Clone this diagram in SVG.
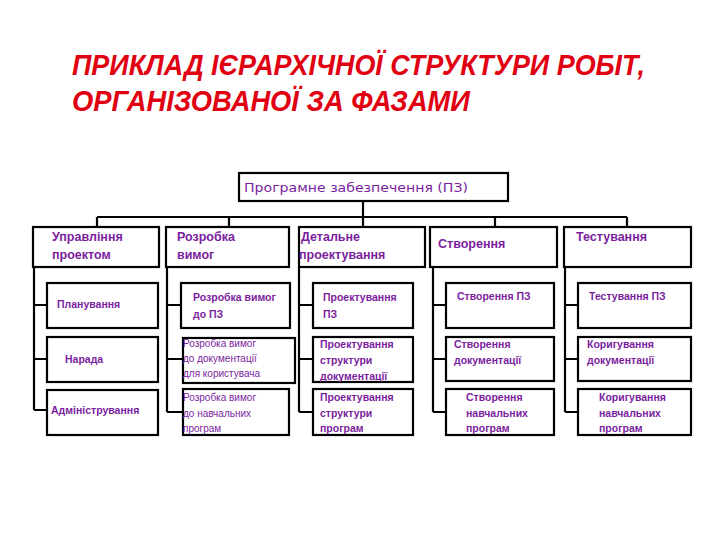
<svg xmlns="http://www.w3.org/2000/svg" width="720" height="540" viewBox="0 0 720 540">
<style>
.bx{fill:#fff;stroke:#000;stroke-width:2.2}
.ln{fill:none;stroke:#000;stroke-width:2.2}
.t1{font-family:"Liberation Sans",Arial,sans-serif;font-weight:bold;font-size:12.5px;fill:#7B1E9E}
.t0{font-family:"DejaVu Sans",Verdana,sans-serif;font-size:12.5px;fill:#7B1E9E}
.t2{font-family:"Liberation Sans",Arial,sans-serif;font-weight:bold;font-size:10.5px;fill:#7B1E9E}
.t3{font-family:"Liberation Sans",Arial,sans-serif;font-size:10px;fill:#7B1E9E}
.tt{font-family:"Liberation Sans",Arial,sans-serif;font-weight:bold;font-style:italic;font-size:29px;fill:#E00012}
</style>
<rect width="720" height="540" fill="#fff"/>
<g id="title">
<text class="tt" x="72" y="75" textLength="573" lengthAdjust="spacingAndGlyphs">ПРИКЛАД ІЄРАРХІЧНОЇ СТРУКТУРИ РОБІТ,</text>
<text class="tt" x="72" y="111" textLength="398" lengthAdjust="spacingAndGlyphs">ОРГАНІЗОВАНОЇ ЗА ФАЗАМИ</text>
</g>
<g id="connectors">
<path class="ln" d="M363 201V217M97 217H627M97 217V227M229 217V227M363 217V227M495 217V227M627 217V227"/>
<path class="ln" d="M34 267V410M34 305H47M34 359H47M34 410H47"/>
<path class="ln" d="M167 267V412M167 305H181M167 359H183M167 412H183"/>
<path class="ln" d="M299 267V412M299 305H313M299 359H313M299 412H313"/>
<path class="ln" d="M433 267V412M433 305H446M433 359H446M433 412H446"/>
<path class="ln" d="M565 267V412M565 305H578M565 359H578M565 412H578"/>
</g>
<g id="root"><rect class="bx" x="239" y="173" width="269" height="28"/><text class="t0" x="244" y="192" textLength="224" lengthAdjust="spacingAndGlyphs">Програмне забезпечення (ПЗ)</text></g>
<g id="n-upr"><rect class="bx" x="33" y="227" width="126" height="40"/><text class="t1" x="52" y="241">Управління</text><text class="t1" x="52" y="259">проектом</text></g>
<g id="n-rozr"><rect class="bx" x="166" y="227" width="123" height="40"/><text class="t1" x="177" y="241">Розробка</text><text class="t1" x="177" y="259">вимог</text></g>
<g id="n-det"><rect class="bx" x="299" y="227" width="126" height="40"/><text class="t1" x="301" y="241">Детальне</text><text class="t1" x="299" y="259">проектування</text></g>
<g id="n-stv"><rect class="bx" x="430" y="227" width="127" height="40"/><text class="t1" x="438" y="248">Створення</text></g>
<g id="n-test"><rect class="bx" x="564" y="227" width="127" height="40"/><text class="t1" x="576" y="241">Тестування</text></g>

<g id="n-plan"><rect class="bx" x="47" y="283" width="111" height="45"/><text class="t2" x="57" y="308">Планування</text></g>
<g id="n-narada"><rect class="bx" x="47" y="337" width="111" height="45"/><text class="t2" x="65" y="363">Нарада</text></g>
<g id="n-adm"><rect class="bx" x="47" y="390" width="111" height="45"/><text class="t2" x="51" y="414">Адміністрування</text></g>

<g id="n-rv-pz"><rect class="bx" x="181" y="283" width="109" height="45"/><text class="t2" x="193" y="301">Розробка вимог</text><text class="t2" x="193" y="318">до ПЗ</text></g>
<g id="n-rv-doc"><rect class="bx" x="183" y="338" width="112" height="45"/><text class="t3" x="183" y="347">Розробка вимог</text><text class="t3" x="183" y="362">до документації</text><text class="t3" x="183" y="377">для користувача</text></g>
<g id="n-rv-nav"><rect class="bx" x="183" y="389" width="106" height="46"/><text class="t3" x="183" y="401">Розробка вимог</text><text class="t3" x="183" y="417">до навчальних</text><text class="t3" x="183" y="432">програм</text></g>

<g id="n-pr-pz"><rect class="bx" x="313" y="283" width="100" height="45"/><text class="t2" x="323" y="301">Проектування</text><text class="t2" x="323" y="318">ПЗ</text></g>
<g id="n-pr-doc"><rect class="bx" x="313" y="337" width="100" height="45"/><text class="t2" x="320" y="348">Проектування</text><text class="t2" x="320" y="364">структури</text><text class="t2" x="320" y="380">документації</text></g>
<g id="n-pr-prog"><rect class="bx" x="313" y="389" width="100" height="46"/><text class="t2" x="320" y="401">Проектування</text><text class="t2" x="320" y="417">структури</text><text class="t2" x="320" y="432">програм</text></g>

<g id="n-st-pz"><rect class="bx" x="446" y="283" width="108" height="45"/><text class="t2" x="457" y="300">Створення ПЗ</text></g>
<g id="n-st-doc"><rect class="bx" x="446" y="337" width="108" height="44"/><text class="t2" x="454" y="348">Створення</text><text class="t2" x="454" y="364">документації</text></g>
<g id="n-st-nav"><rect class="bx" x="446" y="389" width="108" height="46"/><text class="t2" x="466" y="401">Створення</text><text class="t2" x="466" y="417">навчальних</text><text class="t2" x="466" y="432">програм</text></g>

<g id="n-ts-pz"><rect class="bx" x="578" y="283" width="113" height="45"/><text class="t2" x="589" y="300">Тестування ПЗ</text></g>
<g id="n-kor-doc"><rect class="bx" x="578" y="337" width="113" height="44"/><text class="t2" x="587" y="348">Коригування</text><text class="t2" x="587" y="364">документації</text></g>
<g id="n-kor-nav"><rect class="bx" x="578" y="389" width="113" height="46"/><text class="t2" x="599" y="401">Коригування</text><text class="t2" x="599" y="417">навчальних</text><text class="t2" x="599" y="432">програм</text></g>
</svg>
